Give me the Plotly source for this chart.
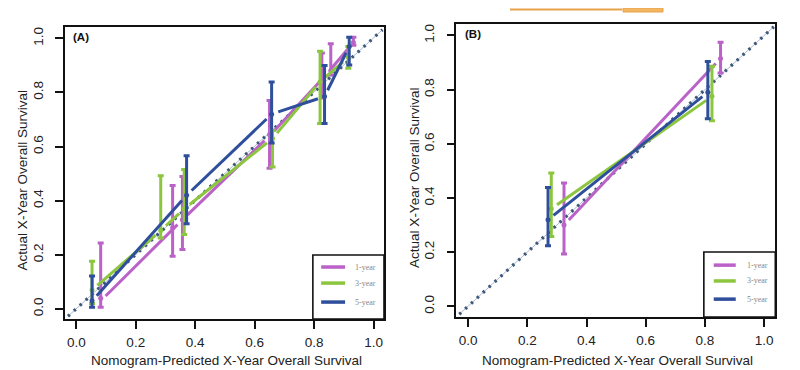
import math
import plotly.graph_objects as go

# ---------------- data ----------------
series_names = ["1-year", "3-year", "5-year"]
colors = ["#BA62C7", "#8CC63E", "#2F4F9C"]

# Panel A : error bars (x, point y, lower, upper)
A_bar_x = [
    [0.082, 0.324, 0.357, 0.650, 0.826, 0.856, 0.932],
    [0.053, 0.284, 0.363, 0.660, 0.820, 0.915],
    [0.053, 0.371, 0.657, 0.835, 0.918],
]
A_bar_y = [
    [0.04, 0.30, 0.33, 0.645, 0.85, 0.88, 0.985],
    [0.07, 0.29, 0.37, 0.63, 0.84, 0.93],
    [0.03, 0.42, 0.72, 0.785, 0.97],
]
A_bar_lo = [
    [0.006, 0.195, 0.22, 0.52, 0.78, 0.865, 0.975],
    [0.02, 0.262, 0.275, 0.525, 0.685, 0.89],
    [0.006, 0.315, 0.613, 0.685, 0.902],
]
A_bar_hi = [
    [0.244, 0.456, 0.49, 0.77, 0.946, 0.98, 1.004],
    [0.176, 0.492, 0.515, 0.66, 0.952, 0.97],
    [0.122, 0.566, 0.839, 0.90, 1.004],
]
# Panel A : calibration line vertices
A_line_x = [
    [0.082, 0.357, 0.650, 0.840, 0.932],
    [0.053, 0.284, 0.363, 0.660, 0.820, 0.915],
    [0.053, 0.371, 0.657, 0.835, 0.918],
]
A_line_y = [
    [0.03, 0.33, 0.64, 0.865, 0.985],
    [0.07, 0.29, 0.37, 0.63, 0.84, 0.93],
    [0.03, 0.42, 0.72, 0.785, 0.97],
]

# Panel B
B_bar_x = [[0.324, 0.853], [0.281, 0.824], [0.270, 0.810]]
B_bar_y = [[0.30, 0.915], [0.36, 0.775], [0.32, 0.79]]
B_bar_lo = [[0.193, 0.861], [0.258, 0.685], [0.224, 0.692]]
B_bar_hi = [[0.455, 0.975], [0.492, 0.886], [0.439, 0.904]]

tick_vals = [0.0, 0.2, 0.4, 0.6, 0.8, 1.0]
tick_text = ["0.0", "0.2", "0.4", "0.6", "0.8", "1.0"]
x_title = "Nomogram-Predicted X-Year Overall Survival"
y_title = "Actual X-Year Overall Survival"
panel_labels = ["(A)", "(B)"]

# ---------------- layout geometry ----------------
W, H = 800, 370
A_xdom = [57 / W, 376 / W]
A_ydom = [1 - 311 / H, 1 - 19 / H]
B_xdom = [448.3 / W, 767.3 / W]
B_ydom = [1 - 309 / H, 1 - 16 / H]
A_xr, A_yr = [-0.038, 1.035], [-0.037, 1.042]
B_xr, B_yr = [-0.040, 1.038], [-0.039, 1.042]

FONT = "Arial, Liberation Sans, sans-serif"


def scale(dom, rng, size):
    return (dom[1] - dom[0]) * size / (rng[1] - rng[0])


def gapped(xs, ys, sx, sy, g=7.0):
    ox, oy = [], []
    for i in range(len(xs) - 1):
        dx = (xs[i + 1] - xs[i]) * sx
        dy = (ys[i + 1] - ys[i]) * sy
        L = math.hypot(dx, dy)
        f = min(g / L, 0.45) if L > 0 else 0
        ox += [xs[i] + (xs[i + 1] - xs[i]) * f, xs[i + 1] - (xs[i + 1] - xs[i]) * f, None]
        oy += [ys[i] + (ys[i + 1] - ys[i]) * f, ys[i + 1] - (ys[i + 1] - ys[i]) * f, None]
    return ox, oy


fig = go.Figure()


def add_panel(xa, ya, xr, yr, xdom, ydom, bx, by, blo, bhi, lx, ly):
    sx = scale(xdom, xr, W)
    sy = scale(ydom, yr, H)
    # diagonal reference line
    fig.add_trace(go.Scatter(x=[xr[0] + 0.01, xr[1] - 0.005], y=[yr[0] + 0.01, yr[1] - 0.01],
                             mode="lines", line=dict(color="#A9B8D0", width=1),
                             xaxis=xa, yaxis=ya, showlegend=False, hoverinfo="skip"))
    fig.add_trace(go.Scatter(x=[xr[0] + 0.01, xr[1] - 0.005], y=[yr[0] + 0.01, yr[1] - 0.01],
                             mode="lines", line=dict(color="#3E5878", width=3.2, dash="2.5px,5.5px"),
                             xaxis=xa, yaxis=ya, showlegend=False, hoverinfo="skip"))
    for k in range(3):
        c = colors[k]
        gx, gy = gapped(lx[k], ly[k], sx, sy)
        fig.add_trace(go.Scatter(x=gx, y=gy, mode="lines", line=dict(color=c, width=3),
                                 xaxis=xa, yaxis=ya, showlegend=False, hoverinfo="skip"))
        plus = [h - y for h, y in zip(bhi[k], by[k])]
        minus = [y - l for l, y in zip(blo[k], by[k])]
        fig.add_trace(go.Scatter(x=bx[k], y=by[k], mode="markers",
                                 marker=dict(color=c, size=5),
                                 error_y=dict(type="data", symmetric=False, array=plus, arrayminus=minus,
                                              color=c, thickness=3, width=3),
                                 xaxis=xa, yaxis=ya, showlegend=False, hoverinfo="skip"))


add_panel("x", "y", A_xr, A_yr, A_xdom, A_ydom, A_bar_x, A_bar_y, A_bar_lo, A_bar_hi, A_line_x, A_line_y)
add_panel("x2", "y2", B_xr, B_yr, B_xdom, B_ydom, B_bar_x, B_bar_y, B_bar_lo, B_bar_hi, B_bar_x, B_bar_y)

axis_common = dict(showgrid=False, zeroline=False, showline=True, mirror=True,
                   linecolor="#111", linewidth=1.6, ticks="outside", ticklen=8, tickwidth=1.5,
                   tickcolor="#111", tickvals=tick_vals, ticktext=tick_text,
                   tickfont=dict(family=FONT, size=13.5, color="#222"))

fig.update_layout(
    width=W, height=H, margin=dict(l=0, r=0, t=0, b=0),
    paper_bgcolor="white", plot_bgcolor="white", showlegend=False,
    xaxis=dict(domain=A_xdom, range=A_xr, anchor="y", ticklabelstandoff=2, **axis_common),
    yaxis=dict(domain=A_ydom, range=A_yr, anchor="x", tickangle=-90, ticklabelstandoff=7, **axis_common),
    xaxis2=dict(domain=B_xdom, range=B_xr, anchor="y2", ticklabelstandoff=2, **axis_common),
    yaxis2=dict(domain=B_ydom, range=B_yr, anchor="x2", tickangle=-90, ticklabelstandoff=7, **axis_common),
)

ann = []
shapes = []
for p, (xd, yd, xref, yref, leg) in enumerate([
    (A_xdom, A_ydom, "x domain", "y domain",
     dict(x0=0.777, lx0=0.803, lx1=0.878, tx=0.903, ys=[0.178, 0.123, 0.058], y1=0.219)),
    (B_xdom, B_ydom, "x2 domain", "y2 domain",
     dict(x0=0.776, lx0=0.807, lx1=0.876, tx=0.905, ys=[0.177, 0.123, 0.061], y1=0.222)),
]):
    # axis titles
    ann.append(dict(text=x_title, xref="paper", yref="paper",
                    x=(xd[0] + xd[1]) / 2 + 0.002, y=1 - 352 / H,
                    showarrow=False, xanchor="center", yanchor="middle",
                    font=dict(family=FONT, size=13.5, color="#222")))
    ann.append(dict(text=y_title, xref="paper", yref="paper",
                    x=(14 if p == 0 else 407) / W, y=(yd[0] + yd[1]) / 2 - 0.02,
                    showarrow=False, textangle=-90, xanchor="center", yanchor="middle",
                    font=dict(family=FONT, size=13.5, color="#222")))
    ann.append(dict(text="<b>" + panel_labels[p] + "</b>", xref=xref, yref=yref,
                    x=0.02, y=0.965, showarrow=False, xanchor="left", yanchor="middle",
                    font=dict(family=FONT, size=11.5, color="#111")))
    # legend box
    shapes.append(dict(type="rect", xref=xref, yref=yref, x0=leg["x0"], x1=1.0, y0=0.0, y1=leg["y1"],
                       line=dict(color="#111", width=1.6), fillcolor="white", layer="above"))
    for k in range(3):
        shapes.append(dict(type="line", xref=xref, yref=yref, x0=leg["lx0"], x1=leg["lx1"],
                           y0=leg["ys"][k], y1=leg["ys"][k], line=dict(color=colors[k], width=3.5),
                           layer="above"))
        ann.append(dict(text=series_names[k], xref=xref, yref=yref, x=leg["tx"], y=leg["ys"][k],
                        showarrow=False, xanchor="left", yanchor="middle",
                        font=dict(family="Liberation Serif, serif", size=8, color="#888")))

# journal header remnants at top (decorative)
shapes.append(dict(type="line", xref="paper", yref="paper", x0=502 / W, x1=614 / W,
                   y0=1 - 1.5 / H, y1=1 - 1.5 / H, line=dict(color="#E8A24A", width=2)))
shapes.append(dict(type="rect", xref="paper", yref="paper", x0=615 / W, x1=655 / W,
                   y0=1 - 4 / H, y1=1.0, line=dict(color="#E8A24A", width=1), fillcolor="#F2B661"))

fig.update_layout(annotations=ann, shapes=shapes)
fig.write_html("out.html")
